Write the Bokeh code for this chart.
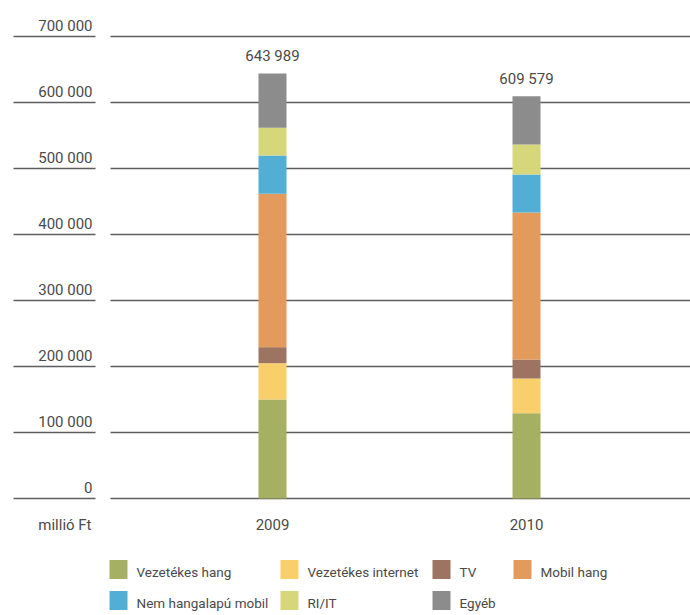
from bokeh.plotting import figure
from bokeh.models import Range1d, ColumnDataSource
from bokeh.embed import file_html
from bokeh.resources import INLINE
from bokeh.core.properties import value

# ---------------- data ----------------
years = ["2009", "2010"]
series_names = ["Vezetékes hang", "Vezetékes internet", "TV", "Mobil hang",
                "Nem hangalapú mobil", "RI/IT", "Egyéb"]
vezetekes_hang = [150000, 129000]
vezetekes_internet = [55000, 52800]
tv = [24300, 28800]
mobil_hang = [232300, 222700]
nem_hangalapu_mobil = [58100, 57600]
ri_it = [42000, 45500]
egyeb = [82289, 73179]
totals = [643989, 609579]
total_labels = ["643 989", "609 579"]
y_ticks = [0, 100000, 200000, 300000, 400000, 500000, 600000, 700000]
y_tick_labels = ["0", "100 000", "200 000", "300 000", "400 000", "500 000",
                 "600 000", "700 000"]
unit_label = "millió Ft"
colors = ["#a6b062", "#f8cf6b", "#9d7461", "#e39a5d", "#53aed5", "#d6d77b", "#8b8c8b"]

# ---------------- layout (pixels) ----------------
W, H = 690, 615
ZERO_PX, PX_PER_100K = 498.0, 66.0
X0_PX, X_STEP_PX = 272.0, 254.0
FONT = value("Roboto")
FS = "15px"
FS_LEG = "13.5px"
TXT = "#4a4a4a"
GRID = "#5e5e5e"


def px2x(px):
    return (px - X0_PX) / X_STEP_PX


def px2y(py):
    return (ZERO_PX - py) / PX_PER_100K * 100000


p = figure(width=W, height=H, output_backend="svg", toolbar_location=None,
           x_range=Range1d(px2x(0), px2x(W)), y_range=Range1d(px2y(H), px2y(0)),
           x_axis_location=None, y_axis_location=None, min_border=0,
           outline_line_color=None)
p.grid.visible = False

# grid lines (main part and the short part under the tick labels)
p.segment(x0=px2x(110), x1=px2x(W), y0=y_ticks, y1=y_ticks,
          line_color=GRID, line_width=1.4)
p.segment(x0=px2x(13), x1=px2x(95), y0=y_ticks, y1=y_ticks,
          line_color=GRID, line_width=1.4)

# tick labels
p.text(x=[px2x(92)] * len(y_ticks), y=y_ticks, text=y_tick_labels,
       text_align="right", text_baseline="alphabetic", y_offset=-11,
       text_font=FONT, text_font_size=FS, text_color=TXT)

# stacked bars
keys = ["s%d" % i for i in range(len(series_names))]
src = ColumnDataSource(dict(x=list(range(len(years))),
                            s0=vezetekes_hang, s1=vezetekes_internet, s2=tv,
                            s3=mobil_hang, s4=nem_hangalapu_mobil, s5=ri_it,
                            s6=egyeb))
p.vbar_stack(keys, x="x", width=28 / X_STEP_PX, color=colors, line_color=None,
             source=src)

# totals
p.text(x=list(range(len(years))), y=totals, text=total_labels,
       text_align="center", text_baseline="alphabetic", y_offset=-17,
       text_font=FONT, text_font_size=FS, text_color=TXT)

# category labels
p.text(x=list(range(len(years))), y=[0] * len(years), text=years,
       text_align="center", text_baseline="alphabetic", y_offset=26,
       text_font=FONT, text_font_size=FS, text_color=TXT)
p.text(x=[px2x(91)], y=[0], text=[unit_label],
       text_align="right", text_baseline="alphabetic", y_offset=26,
       text_font=FONT, text_font_size=FS, text_color=TXT)

# legend (manual, 4 columns x 2 rows)
col_px = [109, 280, 432, 513]
row_px = [569, 600]
lx, ly, ltx = [], [], []
for i in range(len(series_names)):
    r, c = divmod(i, 4)
    lx.append(px2x(col_px[c] + 9))
    ly.append(px2y(row_px[r]))
    ltx.append(px2x(col_px[c] + 27))
p.rect(x=lx, y=ly, width=18, height=19, width_units="screen",
       height_units="screen", fill_color=colors, line_color=None)
p.text(x=ltx, y=ly, text=series_names, text_align="left",
       text_baseline="middle", y_offset=2,
       text_font=FONT, text_font_size=FS_LEG, text_color=TXT)

open("out.html", "w").write(file_html(p, INLINE))
